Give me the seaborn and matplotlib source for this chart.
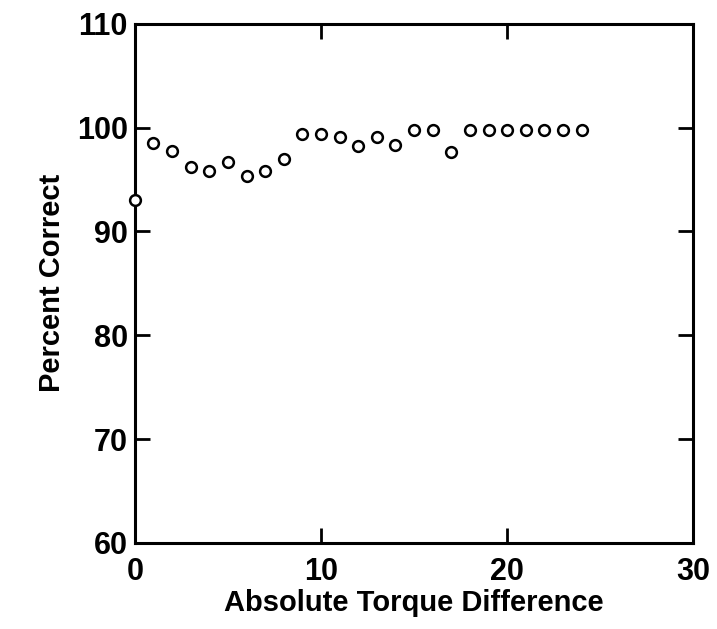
import matplotlib
matplotlib.use("Agg")
import matplotlib.pyplot as plt
import seaborn as sns
import pandas as pd

# Percent correct as a function of absolute torque difference
torque_diff = list(range(25))
percent_correct = [93.0, 98.5, 97.8, 96.2, 95.8, 96.7, 95.3, 95.8, 97.0, 99.4,
                   99.4, 99.1, 98.2, 99.1, 98.3, 99.8, 99.8, 97.7, 99.8, 99.8,
                   99.8, 99.8, 99.8, 99.8, 99.8]
x_ticks = [0, 10, 20, 30]
y_ticks = [60, 70, 80, 90, 100, 110]

df = pd.DataFrame({"Absolute Torque Difference": torque_diff,
                   "Percent Correct": percent_correct})

sns.set_style("ticks")
plt.rcParams["font.family"] = ["Liberation Sans", "DejaVu Sans"]
plt.rcParams["font.weight"] = "bold"

fig = plt.figure(figsize=(7.17, 6.29), dpi=100)
ax = fig.add_axes([0.188, 0.137, 0.779, 0.825])

sns.scatterplot(data=df, x="Absolute Torque Difference", y="Percent Correct",
                ax=ax, marker="o", s=60, facecolor="white",
                edgecolor="black", linewidth=1.8, zorder=3, clip_on=False)

ax.set_xlim(0, 30)
ax.set_ylim(60, 110)
ax.set_xticks(x_ticks)
ax.set_yticks(y_ticks)
ax.set_xticklabels([str(t) for t in x_ticks], fontsize=22, fontweight="bold")
ax.set_yticklabels([str(t) for t in y_ticks], fontsize=22, fontweight="bold")
ax.tick_params(axis="both", direction="in", length=11, width=2, top=True,
               right=True, colors="black")
ax.tick_params(axis="x", pad=10)
ax.tick_params(axis="y", pad=5)
for side in ax.spines.values():
    side.set_linewidth(2.2)
    side.set_color("black")
    side.set_visible(True)

ax.set_xlabel("Absolute Torque Difference", fontsize=21, fontweight="bold",
              color="black", labelpad=2)
ax.set_ylabel("Percent Correct", fontsize=21, fontweight="bold",
              color="black", labelpad=8)

fig.savefig("out.png", dpi=100, facecolor="white")
